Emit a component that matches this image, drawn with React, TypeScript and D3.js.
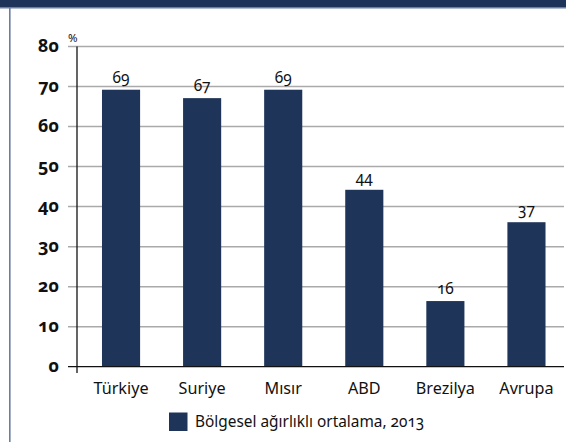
import React from "react";
import * as d3 from "d3";

const categories = ["Türkiye", "Suriye", "Mısır", "ABD", "Brezilya", "Avrupa"];
const values = [69.2, 67.1, 69.2, 44.2, 16.4, 36.1];
const valueLabels = ["69", "67", "69", "44", "16", "37"];
const yTicks = [0, 10, 20, 30, 40, 50, 60, 70, 80];
const legendLabel = "Bölgesel ağırlıklı ortalama, 2013";
const unitLabel = "%";

const W = 566;
const H = 442;
const NAVY = "#1e3459";
const FONT = "'Noto Sans', 'Open Sans', sans-serif";

export default function App() {
  const x = d3
    .scaleBand<string>()
    .domain(categories)
    .range([80.5, 567])
    .paddingInner(0.53)
    .paddingOuter(0.265);
  const y = d3.scaleLinear().domain([0, 80]).range([366.7, 46.5]);

  const axisX = 77;
  const gridLeft = 68;
  const gridRight = 564;
  const onum = { fontVariantNumeric: "oldstyle-nums", fontFeatureSettings: "'onum' 1" } as React.CSSProperties;

  return (
    <svg
      width={W}
      height={H}
      style={{ position: "absolute", left: 0, top: 0, background: "#fff" }}
      fontFamily={FONT}
    >
      <rect x={0} y={0} width={W} height={7} fill={NAVY} />
      <rect x={0} y={7} width={W} height={1.5} fill="#6b7fa3" />
      <rect x={9} y={7} width={1.6} height={H - 7} fill="#6b7fa3" />

      {yTicks.map((t) => (
        <g key={t}>
          {t > 0 && (
            <line
              x1={gridLeft}
              x2={gridRight}
              y1={y(t)}
              y2={y(t)}
              stroke="#aaaaaa"
              strokeWidth={1.5}
            />
          )}
          <text
            x={59}
            y={y(t) + 5}
            textAnchor="end"
            fontWeight={700}
            fontSize={18}
            fill="#111"
            style={onum}
          >
            {t}
          </text>
        </g>
      ))}
      <text x={68} y={41.5} fontSize={11.5} fill="#111">
        {unitLabel}
      </text>

      {categories.map((c, i) => (
        <g key={c}>
          <rect
            x={x(c)}
            y={y(values[i])}
            width={x.bandwidth()}
            height={y(0) - y(values[i])}
            fill={NAVY}
          />
          <text
            x={(x(c) as number) + x.bandwidth() / 2}
            y={y(values[i]) - 7}
            textAnchor="middle"
            fontSize={15.5}
            fill="#111"
            style={onum}
          >
            {valueLabels[i]}
          </text>
          <text
            x={(x(c) as number) + x.bandwidth() / 2}
            y={393.5}
            textAnchor="middle"
            fontSize={16.2}
            fill="#111"
          >
            {c}
          </text>
        </g>
      ))}

      <line x1={gridLeft} x2={gridRight} y1={y(0)} y2={y(0)} stroke="#111" strokeWidth={1.3} />
      <line x1={axisX} x2={axisX} y1={y(80)} y2={373} stroke="#111" strokeWidth={1.3} />

      <rect x={169} y={412.5} width={18.5} height={18.5} fill={NAVY} />
      <text x={195} y={427} fontSize={15.4} fill="#111" style={onum}>
        {legendLabel}
      </text>
    </svg>
  );
}
